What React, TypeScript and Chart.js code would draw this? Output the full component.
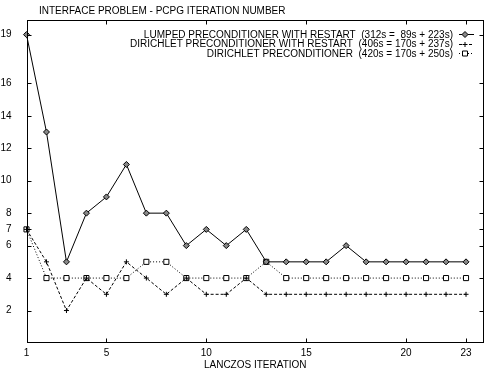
import React, { useEffect, useRef } from "react";
import { Chart, registerables } from "chart.js";

Chart.register(...registerables);

const chartTitle = "INTERFACE PROBLEM - PCPG ITERATION NUMBER";
const xAxisTitle = "LANCZOS ITERATION";
const iterations = [1, 2, 3, 4, 5, 6, 7, 8, 9, 10, 11, 12, 13, 14, 15, 16, 17, 18, 19, 20, 21, 22, 23];
const lumpedRestart = [19, 13, 5, 8, 9, 11, 8, 8, 6, 7, 6, 7, 5, 5, 5, 5, 6, 5, 5, 5, 5, 5, 5];
const dirichletRestart = [7, 5, 2, 4, 3, 5, 4, 3, 4, 3, 3, 4, 3, 3, 3, 3, 3, 3, 3, 3, 3, 3, 3];
const dirichlet = [7, 4, 4, 4, 4, 4, 5, 5, 4, 4, 4, 4, 5, 4, 4, 4, 4, 4, 4, 4, 4, 4, 4];
const seriesNames = [
  "LUMPED PRECONDITIONER WITH RESTART  (312s =  89s + 223s)",
  "DIRICHLET PRECONDITIONER WITH RESTART  (406s = 170s + 237s)",
  "DIRICHLET PRECONDITIONER  (420s = 170s + 250s)",
];
const xTicks = [1, 5, 10, 15, 20, 23];
const yTicks = [2, 4, 6, 7, 8, 10, 12, 14, 16, 19];

const FONT = '"Liberation Sans", Arial, Helvetica, sans-serif';
const dashes = [[], [3, 2], [1, 2]];
const markers = ["diamond", "plus", "square"];

function drawMarker(ctx: CanvasRenderingContext2D, kind: string, x: number, y: number) {
  ctx.save();
  ctx.setLineDash([]);
  ctx.lineWidth = 1;
  ctx.strokeStyle = "#000";
  ctx.beginPath();
  if (kind === "diamond") {
    ctx.moveTo(x, y - 3);
    ctx.lineTo(x + 3, y);
    ctx.lineTo(x, y + 3);
    ctx.lineTo(x - 3, y);
    ctx.closePath();
    ctx.fillStyle = "#888";
    ctx.fill();
    ctx.stroke();
  } else if (kind === "plus") {
    ctx.moveTo(x - 2.5, y);
    ctx.lineTo(x + 2.5, y);
    ctx.moveTo(x, y - 2.5);
    ctx.lineTo(x, y + 2.5);
    ctx.stroke();
  } else {
    ctx.rect(x - 2.5, y - 2.5, 5, 5);
    ctx.fillStyle = "#fff";
    ctx.fill();
    ctx.stroke();
  }
  ctx.restore();
}

const framePlugin = {
  id: "gnuframe",
  afterDraw(chart: any) {
    const { ctx, chartArea } = chart;
    const xs = chart.scales.x;
    const ys = chart.scales.y;
    const L = Math.round(chartArea.left) + 0.5;
    const R = Math.round(chartArea.right) - 0.5;
    const T = Math.round(chartArea.top) + 0.5;
    const B = Math.round(chartArea.bottom) - 0.5;
    ctx.save();
    ctx.strokeStyle = "#000";
    ctx.lineWidth = 1;
    ctx.setLineDash([]);
    ctx.strokeRect(L, T, R - L, B - T);
    ctx.beginPath();
    const tl = 4;
    for (const v of yTicks) {
      const py = Math.round(ys.getPixelForValue(v)) + 0.5;
      ctx.moveTo(L, py);
      ctx.lineTo(L + tl, py);
      ctx.moveTo(R, py);
      ctx.lineTo(R - tl, py);
    }
    for (const v of xTicks) {
      const px = Math.round(xs.getPixelForValue(v)) + 0.5;
      ctx.moveTo(px, B);
      ctx.lineTo(px, B - tl);
      ctx.moveTo(px, T);
      ctx.lineTo(px, T + tl);
    }
    ctx.stroke();

    ctx.fillStyle = "#000";
    ctx.font = `10px ${FONT}`;
    ctx.textAlign = "left";
    ctx.textBaseline = "alphabetic";
    ctx.fillText(chartTitle, 39, 13.5);

    const rowY = [34, 43.5, 53];
    for (let i = 0; i < seriesNames.length; i++) {
      const y = rowY[i];
      ctx.textAlign = "right";
      ctx.fillText(seriesNames[i], 453, y + 3.5);
      ctx.beginPath();
      ctx.setLineDash(dashes[i]);
      ctx.moveTo(459, Math.round(y) + 0.5);
      ctx.lineTo(474, Math.round(y) + 0.5);
      ctx.stroke();
      drawMarker(ctx, markers[i], 465, Math.round(y) + 0.5);
    }
    ctx.restore();
  },
};

export default function App() {
  const ref = useRef<HTMLCanvasElement | null>(null);
  useEffect(() => {
    if (!ref.current) return;
    const mk = (vals: number[]) => iterations.map((x, i) => ({ x, y: vals[i] }));
    const common = {
      borderColor: "#000",
      borderWidth: 1,
      fill: false,
      tension: 0,
      clip: false,
    };
    const chart = new Chart(ref.current, {
      type: "line",
      data: {
        datasets: [
          {
            ...common,
            label: seriesNames[0],
            data: mk(lumpedRestart),
            pointStyle: "rectRot",
            pointRadius: 3,
            pointBackgroundColor: "#888",
            pointBorderColor: "#000",
            pointBorderWidth: 1,
          },
          {
            ...common,
            label: seriesNames[1],
            data: mk(dirichletRestart),
            borderDash: [3, 2],
            pointStyle: "cross",
            pointRadius: 2.5,
            pointBorderColor: "#000",
            pointBorderWidth: 1,
          },
          {
            ...common,
            label: seriesNames[2],
            data: mk(dirichlet),
            borderDash: [1, 2],
            pointStyle: "rect",
            pointRadius: 3.6,
            pointBackgroundColor: "#fff",
            pointBorderColor: "#000",
            pointBorderWidth: 1,
          },
        ],
      },
      options: {
        responsive: false,
        animation: false,
        layout: { padding: { top: 20, right: 1, left: 0, bottom: 0 } },
        plugins: { legend: { display: false }, title: { display: false }, tooltip: { enabled: false } },
        scales: {
          x: {
            type: "linear",
            min: 1,
            max: 23.9,
            grid: { display: false },
            border: { display: false },
            ticks: { color: "#000", font: { family: FONT, size: 10 }, padding: -4, autoSkip: false, maxRotation: 0 },
            afterBuildTicks: (s: any) => {
              s.ticks = xTicks.map((v) => ({ value: v }));
            },
            afterFit: (s: any) => {
              s.height = 29;
            },
            title: {
              display: true,
              text: xAxisTitle,
              color: "#000",
              font: { family: FONT, size: 10 },
              padding: { top: 0, bottom: 1 },
            },
          },
          y: {
            min: 0,
            max: 19.9,
            grid: { display: false },
            border: { display: false },
            ticks: { color: "#000", font: { family: FONT, size: 10 }, padding: 7, autoSkip: false },
            afterBuildTicks: (s: any) => {
              s.ticks = yTicks.map((v) => ({ value: v }));
            },
            afterFit: (s: any) => {
              s.width = 26.5;
            },
          },
        },
      },
      plugins: [framePlugin],
    } as any);
    return () => chart.destroy();
  }, []);
  return (
    <div style={{ position: "absolute", left: 0, top: 0, width: 485, height: 372, overflow: "hidden", background: "#fff" }}>
      <canvas ref={ref} width={489} height={372} style={{ display: "block" }} />
    </div>
  );
}
